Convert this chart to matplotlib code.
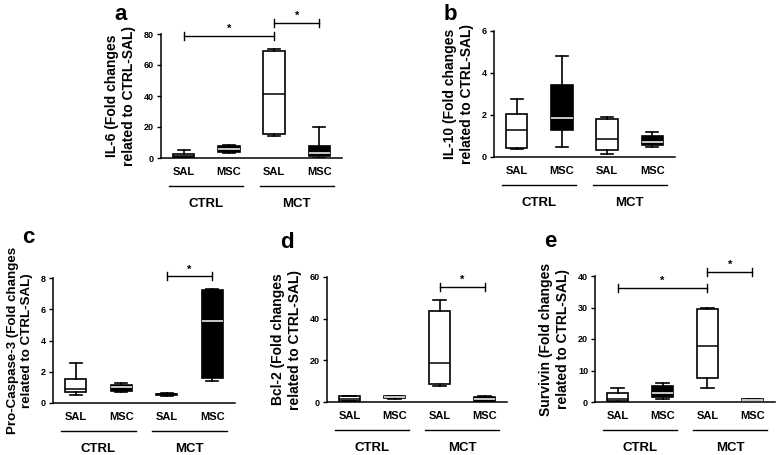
import matplotlib
matplotlib.use("Agg")
import matplotlib.pyplot as plt
import matplotlib.transforms as mtransforms

plt.rcParams['font.family'] = ['Liberation Sans Narrow', 'Liberation Sans', 'DejaVu Sans']

groups = ["SAL", "MSC", "SAL", "MSC"]
conditions = ["CTRL", "MCT"]
fills = ["white", "black", "white", "black"]

# five-number summaries: [low whisker, Q1, median, Q3, high whisker]
il6 = [[0.0, 0.5, 1.5, 2.5, 5.0],
       [3.0, 4.0, 6.0, 7.5, 8.5],
       [14.0, 15.5, 41.5, 69.0, 70.5],
       [0.0, 1.0, 3.0, 8.0, 20.0]]
il10 = [[0.4, 0.45, 1.3, 2.05, 2.75],
        [0.5, 1.3, 1.85, 3.45, 4.8],
        [0.15, 0.35, 0.85, 1.8, 1.9],
        [0.5, 0.55, 0.7, 1.0, 1.2]]
casp3 = [[0.5, 0.7, 0.9, 1.55, 2.55],
         [0.7, 0.8, 1.0, 1.15, 1.3],
         [0.45, 0.5, 0.55, 0.6, 0.65],
         [1.4, 1.6, 5.25, 7.25, 7.3]]
bcl2 = [[0.5, 0.7, 1.5, 2.8, 3.0],
        [1.5, 1.7, 2.2, 2.8, 3.0],
        [7.5, 8.5, 18.5, 43.5, 49.0],
        [0.3, 0.5, 1.5, 2.5, 3.0]]
survivin = [[0.0, 0.3, 1.0, 2.8, 4.6],
            [0.8, 1.5, 3.0, 5.0, 6.1],
            [4.3, 7.5, 17.7, 29.6, 30.0],
            [0.5, 0.6, 0.7, 0.8, 0.9]]

panels = [
    dict(letter="a", data=il6, ymax=80, yticks=[0, 20, 40, 60, 80],
         ylabel="IL-6 (Fold changes\nrelated to CTRL-SAL)", ylsize=10,
         box=(161, 342, 34, 158), letter_xy=(114, 20),
         sig=[(1, 3, 78.7), (3, 4, 86.9)]),
    dict(letter="b", data=il10, ymax=6, yticks=[0, 2, 4, 6],
         ylabel="IL-10 (Fold changes\nrelated to CTRL-SAL)", ylsize=10,
         box=(494, 675, 31, 157), letter_xy=(444, 20), sig=[]),
    dict(letter="c", data=casp3, ymax=8, yticks=[0, 2, 4, 6, 8],
         ylabel="Pro-Caspase-3 (Fold changes\nrelated to CTRL-SAL)", ylsize=9.6,
         box=(53, 235, 278, 403), letter_xy=(22, 243),
         sig=[(3, 4, 8.1)]),
    dict(letter="d", data=bcl2, ymax=60, yticks=[0, 20, 40, 60],
         ylabel="Bcl-2 (Fold changes\nrelated to CTRL-SAL)", ylsize=10,
         box=(327, 507, 277, 402), letter_xy=(280, 248),
         sig=[(3, 4, 55.3)]),
    dict(letter="e", data=survivin, ymax=40, yticks=[0, 10, 20, 30, 40],
         ylabel="Survivin (Fold changes\nrelated to CTRL-SAL)", ylsize=10,
         box=(595, 775, 276, 402), letter_xy=(544, 247),
         sig=[(1, 3, 36.3), (3, 4, 41.2)]),
]

W, H = 778, 455
fig = plt.figure(figsize=(W / 100, H / 100), dpi=100)

bold_regular = dict(family=['Liberation Sans', 'DejaVu Sans'], fontweight='bold')

for p in panels:
    l, r, t, b = p["box"]
    ax = fig.add_axes([l / W, 1 - b / H, (r - l) / W, (b - t) / H])
    stats = []
    for i, v in enumerate(p["data"]):
        stats.append(dict(whislo=v[0], q1=v[1], med=v[2], q3=v[3], whishi=v[4],
                          fliers=[], label=groups[i]))
    bps = ax.bxp(stats, positions=[1, 2, 3, 4], widths=0.47, patch_artist=True,
                 showfliers=False, capwidths=0.27,
                 boxprops=dict(linewidth=1.2, edgecolor='black'),
                 whiskerprops=dict(linewidth=1.2, color='black'),
                 capprops=dict(linewidth=1.2, color='black'),
                 medianprops=dict(linewidth=1.1))
    for i, (patch, med) in enumerate(zip(bps['boxes'], bps['medians'])):
        patch.set_facecolor(fills[i])
        med.set_color('white' if fills[i] == 'black' else 'black')

    ax.set_xlim(0.5, 4.5)
    ax.set_ylim(0, p["ymax"])
    ax.set_yticks(p["yticks"])
    ax.set_yticklabels([str(v) for v in p["yticks"]], fontsize=6.5, fontweight='bold')
    ax.set_xticks([])
    for s in ["top", "right"]:
        ax.spines[s].set_visible(False)
    for s in ["left", "bottom"]:
        ax.spines[s].set_linewidth(1.1)
    ax.tick_params(axis='y', length=3, width=1.0, pad=2)
    ax.set_ylabel(p["ylabel"], fontsize=p["ylsize"], linespacing=1.2, labelpad=6,
                  **bold_regular)

    hpx = b - t
    tr = mtransforms.blended_transform_factory(ax.transData, ax.transAxes)
    for i, g in enumerate(groups):
        ax.text(i + 1, -14 / hpx, g, transform=tr, ha='center', va='center',
                fontsize=8, fontweight='bold')
    for j, c in enumerate(conditions):
        x0 = 1 + 2 * j
        ax.plot([x0 - 0.32, x0 + 1.32], [-28 / hpx, -28 / hpx], transform=tr,
                color='black', lw=1.0, clip_on=False)
        ax.text(x0 + 0.5, -46 / hpx, c, transform=tr, ha='center', va='center',
                fontsize=9.5, fontweight='bold')

    tick = p["ymax"] * 4 / hpx
    for (a, bb, y) in p["sig"]:
        ax.plot([a, bb], [y, y], color='black', lw=1.0, clip_on=False)
        for xx in (a, bb):
            ax.plot([xx, xx], [y - tick, y + tick], color='black', lw=1.0, clip_on=False)
        ax.text((a + bb) / 2, y + p["ymax"] * 2 / hpx, "*", ha='center', va='bottom',
                fontsize=8, fontweight='bold', clip_on=False)

    lx, ly = p["letter_xy"]
    fig.text(lx / W, 1 - ly / H, p["letter"], fontsize=16, ha='left', va='baseline',
             **bold_regular)

fig.savefig("out.png", dpi=100)
